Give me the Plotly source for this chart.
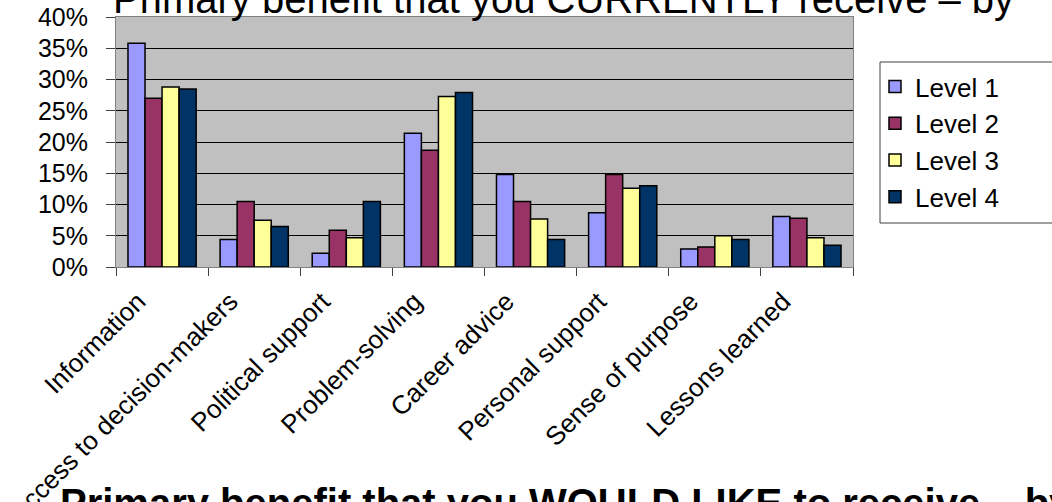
import plotly.graph_objects as go

categories = ["Information", "Access to decision-makers", "Political support",
              "Problem-solving", "Career advice", "Personal support",
              "Sense of purpose", "Lessons learned"]
series_names = ["Level 1", "Level 2", "Level 3", "Level 4"]
level1 = [0.358, 0.044, 0.022, 0.214, 0.148, 0.087, 0.029, 0.081]
level2 = [0.270, 0.105, 0.059, 0.187, 0.105, 0.148, 0.032, 0.078]
level3 = [0.288, 0.075, 0.047, 0.273, 0.077, 0.126, 0.050, 0.047]
level4 = [0.285, 0.065, 0.105, 0.279, 0.044, 0.130, 0.044, 0.035]
colors = ["#9999FF", "#993366", "#FFFF99", "#003366"]
top_title = "Primary benefit that you CURRENTLY receive \u2013 by"
bottom_title = "<b>Primary benefit that you WOULD LIKE to receive \u2013 by</b>"

W, H = 1052, 502
L, R, T, B = 116, 199, 17, 235
PW, PH = W - L - R, H - T - B


def px_x(x):
    return (x - L) / PW


def px_y(y):
    return 1 - (y - T) / PH


FONT = "Liberation Sans, Arial, sans-serif"

fig = go.Figure()
for name, vals, col in zip(series_names, [level1, level2, level3, level4], colors):
    fig.add_trace(go.Bar(x=categories, y=vals, name=name,
                         marker=dict(color=col, line=dict(color="black", width=1.5))))

fig.update_layout(
    width=W, height=H,
    margin=dict(l=L, r=R, t=T, b=B, pad=0, autoexpand=False),
    paper_bgcolor="white", plot_bgcolor="#C0C0C0",
    barmode="group", bargap=0.26, bargroupgap=0,
    font=dict(family=FONT, color="black"),
    showlegend=True,
    legend=dict(x=px_x(875), y=px_y(63), xanchor="left", yanchor="top",
                bgcolor="rgba(0,0,0,0)", borderwidth=0,
                font=dict(family=FONT, size=26),
                itemclick=False),
    xaxis=dict(showgrid=False, ticks="outside", tickson="boundaries", ticklen=8,
               tickcolor="#404040", showline=True, linecolor="#808080", linewidth=1,
               mirror=True, tickangle=-45, automargin=False,
               ticklabelshift=-24, ticklabelstandoff=8,
               tickfont=dict(size=26, family=FONT)),
    yaxis=dict(range=[0, 0.4], dtick=0.05, tickformat=".0%", showgrid=True,
               gridcolor="black", gridwidth=1, ticks="outside", ticklen=9,
               tickcolor="#404040", showline=True, linecolor="#808080", linewidth=1,
               mirror=True, automargin=False, ticklabelstandoff=13,
               tickfont=dict(size=25, family=FONT), zeroline=False),
    shapes=[dict(type="rect", xref="paper", yref="paper",
                 x0=px_x(880), x1=px_x(1100), y0=px_y(223), y1=px_y(62),
                 line=dict(color="#404040", width=1), fillcolor="white", layer="below")],
    annotations=[
        dict(text=top_title, xref="paper", yref="paper", x=px_x(111), y=px_y(-1),
             xanchor="left", yanchor="middle", showarrow=False,
             font=dict(size=40, family=FONT, color="black")),
        dict(text=bottom_title, xref="paper", yref="paper", x=px_x(58), y=px_y(503),
             xanchor="left", yanchor="middle", showarrow=False,
             font=dict(size=40, family=FONT, color="black")),
    ],
)

fig.write_html("out.html")
